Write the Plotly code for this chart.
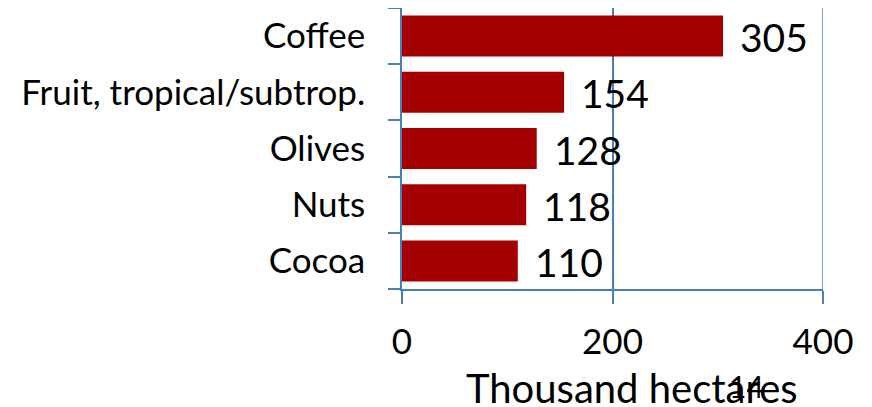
import plotly.graph_objects as go

categories = ["Coffee", "Fruit, tropical/subtrop.", "Olives", "Nuts", "Cocoa"]
values = [305, 154, 128, 118, 110]
x_ticks = [0, 200, 400]
x_title = "Thousand hectares"
page_number = "14"

FONT = "Lato, Open Sans, sans-serif"
AXIS_BLUE = "#4A7EBB"
BAR_RED = "#A50000"

fig = go.Figure()
fig.add_trace(go.Bar(
    y=categories,
    x=values,
    orientation="h",
    marker=dict(color=BAR_RED, line=dict(width=0)),
    width=0.73,
    hoverinfo="x+y",
))

for cat, v in zip(categories, values):
    fig.add_annotation(
        x=v, y=cat, xref="x", yref="y", text=str(v), showarrow=False,
        xanchor="left", yanchor="middle", xshift=15, yshift=-1,
        font=dict(family=FONT, size=39, color="black"),
    )

fig.update_layout(
    width=864, height=399,
    margin=dict(l=394, r=49, t=0, b=118, autoexpand=False),
    paper_bgcolor="white", plot_bgcolor="white",
    showlegend=False,
    font=dict(family=FONT, color="black"),
)
fig.update_xaxes(
    range=[0, 400],
    tickvals=x_ticks,
    ticktext=[str(t) for t in x_ticks],
    tickfont=dict(family=FONT, size=35),
    showgrid=True, gridcolor=AXIS_BLUE, gridwidth=1.5,
    showline=True, linecolor=AXIS_BLUE, linewidth=1.5,
    ticks="outside", ticklen=13, tickcolor=AXIS_BLUE, tickwidth=1.5,
    ticklabelstandoff=8,
    zeroline=False,
)
fig.update_yaxes(
    categoryorder="array", categoryarray=categories[::-1],
    tickfont=dict(family=FONT, size=35),
    showline=True, linecolor=AXIS_BLUE, linewidth=1.5,
    ticks="outside", ticklen=12, tickcolor=AXIS_BLUE, tickwidth=1.5,
    tickson="boundaries",
    ticklabelstandoff=28,
    showgrid=False, zeroline=False,
)
# gridline at the right end of the value axis (plotly hides the edge gridline)
fig.add_shape(
    type="line", xref="x", yref="paper", x0=x_ticks[-1], x1=x_ticks[-1], y0=0, y1=1,
    line=dict(color=AXIS_BLUE, width=1.5), layer="below",
)
fig.add_annotation(
    text=x_title, xref="paper", yref="paper", x=(624 - 394) / (815 - 394),
    y=0, yshift=-99, showarrow=False, xanchor="center", yanchor="middle",
    font=dict(family=FONT, size=40, color="black"),
)
fig.add_annotation(
    text=page_number, xref="paper", yref="paper", x=(738 - 394) / (815 - 394),
    y=0, yshift=-97, showarrow=False, xanchor="center", yanchor="middle",
    font=dict(family=FONT, size=30, color="black"),
)

fig.write_html("out.html")
